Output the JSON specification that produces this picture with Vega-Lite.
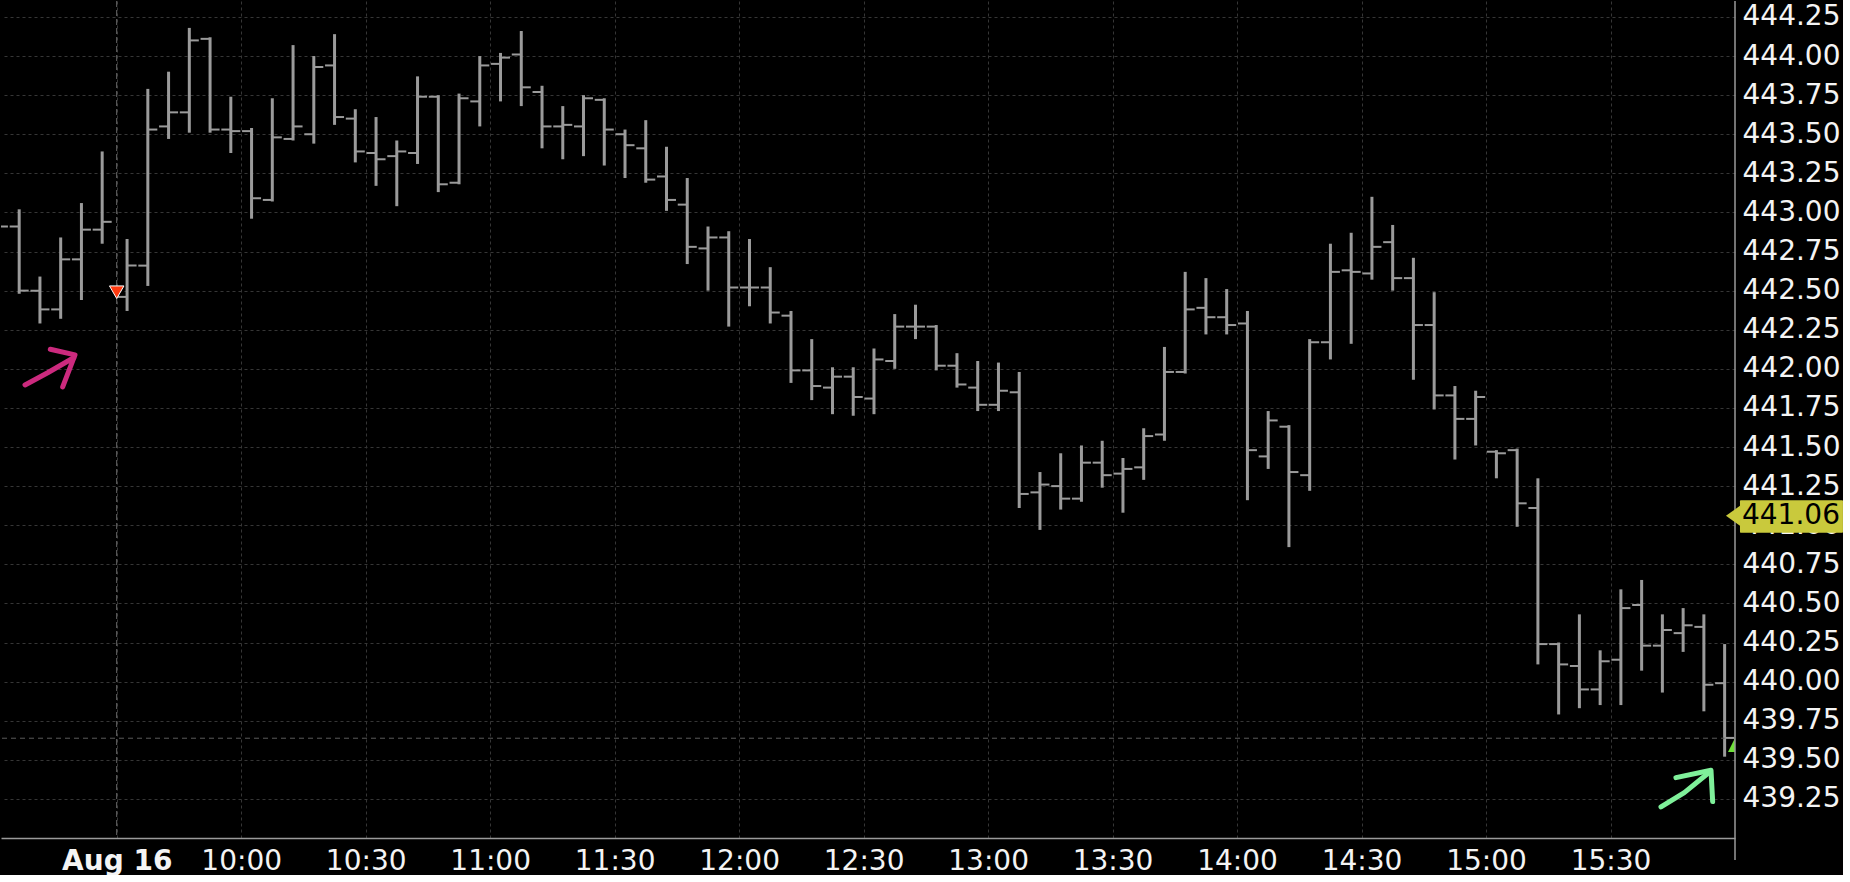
{
  "$schema": "https://vega.github.io/schema/vega-lite/v6.json",
  "width": 1734,
  "height": 837,
  "padding": 0,
  "background": "#000000",
  "config": {
    "view": {"stroke": null},
    "font": "DejaVu Sans"
  },
  "datasets": {
    "bars": [
      {"t": "2021-08-16T09:01:30", "o": 442.95, "h": 443.00, "l": 442.85, "c": 442.91},
      {"t": "2021-08-16T09:06:30", "o": 442.91, "h": 443.02, "l": 442.48, "c": 442.50},
      {"t": "2021-08-16T09:11:30", "o": 442.50, "h": 442.59, "l": 442.29, "c": 442.38},
      {"t": "2021-08-16T09:16:30", "o": 442.38, "h": 442.84, "l": 442.32, "c": 442.70},
      {"t": "2021-08-16T09:21:30", "o": 442.70, "h": 443.06, "l": 442.44, "c": 442.89},
      {"t": "2021-08-16T09:26:30", "o": 442.89, "h": 443.39, "l": 442.80, "c": 442.94},
      {"t": "2021-08-16T09:32:30", "o": 442.46, "h": 442.83, "l": 442.37, "c": 442.66},
      {"t": "2021-08-16T09:37:30", "o": 442.66, "h": 443.79, "l": 442.53, "c": 443.53},
      {"t": "2021-08-16T09:42:30", "o": 443.55, "h": 443.90, "l": 443.47, "c": 443.64},
      {"t": "2021-08-16T09:47:30", "o": 443.64, "h": 444.18, "l": 443.51, "c": 444.10},
      {"t": "2021-08-16T09:52:30", "o": 444.11, "h": 444.12, "l": 443.51, "c": 443.53},
      {"t": "2021-08-16T09:57:30", "o": 443.53, "h": 443.74, "l": 443.38, "c": 443.52},
      {"t": "2021-08-16T10:02:30", "o": 443.52, "h": 443.54, "l": 442.96, "c": 443.09},
      {"t": "2021-08-16T10:07:30", "o": 443.08, "h": 443.73, "l": 443.07, "c": 443.48},
      {"t": "2021-08-16T10:12:30", "o": 443.47, "h": 444.07, "l": 443.46, "c": 443.55},
      {"t": "2021-08-16T10:17:30", "o": 443.50, "h": 444.00, "l": 443.44, "c": 443.93},
      {"t": "2021-08-16T10:22:30", "o": 443.94, "h": 444.14, "l": 443.56, "c": 443.61},
      {"t": "2021-08-16T10:27:30", "o": 443.60, "h": 443.66, "l": 443.32, "c": 443.39},
      {"t": "2021-08-16T10:32:30", "o": 443.38, "h": 443.61, "l": 443.17, "c": 443.34},
      {"t": "2021-08-16T10:37:30", "o": 443.36, "h": 443.46, "l": 443.04, "c": 443.39},
      {"t": "2021-08-16T10:42:30", "o": 443.38, "h": 443.87, "l": 443.31, "c": 443.74},
      {"t": "2021-08-16T10:47:30", "o": 443.74, "h": 443.75, "l": 443.13, "c": 443.18},
      {"t": "2021-08-16T10:52:30", "o": 443.19, "h": 443.76, "l": 443.18, "c": 443.73},
      {"t": "2021-08-16T10:57:30", "o": 443.71, "h": 444.00, "l": 443.55, "c": 443.94},
      {"t": "2021-08-16T11:02:30", "o": 443.95, "h": 444.02, "l": 443.71, "c": 443.99},
      {"t": "2021-08-16T11:07:30", "o": 444.01, "h": 444.16, "l": 443.68, "c": 443.80},
      {"t": "2021-08-16T11:12:30", "o": 443.77, "h": 443.81, "l": 443.41, "c": 443.55},
      {"t": "2021-08-16T11:17:30", "o": 443.55, "h": 443.68, "l": 443.34, "c": 443.56},
      {"t": "2021-08-16T11:22:30", "o": 443.55, "h": 443.75, "l": 443.36, "c": 443.73},
      {"t": "2021-08-16T11:27:30", "o": 443.72, "h": 443.73, "l": 443.30, "c": 443.53},
      {"t": "2021-08-16T11:32:30", "o": 443.50, "h": 443.53, "l": 443.22, "c": 443.43},
      {"t": "2021-08-16T11:37:30", "o": 443.41, "h": 443.59, "l": 443.19, "c": 443.21},
      {"t": "2021-08-16T11:42:30", "o": 443.23, "h": 443.42, "l": 443.01, "c": 443.08},
      {"t": "2021-08-16T11:47:30", "o": 443.05, "h": 443.22, "l": 442.67, "c": 442.78},
      {"t": "2021-08-16T11:52:30", "o": 442.77, "h": 442.91, "l": 442.50, "c": 442.84},
      {"t": "2021-08-16T11:57:30", "o": 442.84, "h": 442.88, "l": 442.27, "c": 442.52},
      {"t": "2021-08-16T12:02:30", "o": 442.52, "h": 442.83, "l": 442.40, "c": 442.52},
      {"t": "2021-08-16T12:07:30", "o": 442.52, "h": 442.65, "l": 442.29, "c": 442.36},
      {"t": "2021-08-16T12:12:30", "o": 442.34, "h": 442.37, "l": 441.91, "c": 441.99},
      {"t": "2021-08-16T12:17:30", "o": 441.99, "h": 442.19, "l": 441.80, "c": 441.89},
      {"t": "2021-08-16T12:22:30", "o": 441.88, "h": 442.01, "l": 441.71, "c": 441.95},
      {"t": "2021-08-16T12:27:30", "o": 441.95, "h": 442.01, "l": 441.70, "c": 441.82},
      {"t": "2021-08-16T12:32:30", "o": 441.81, "h": 442.13, "l": 441.71, "c": 442.06},
      {"t": "2021-08-16T12:37:30", "o": 442.05, "h": 442.35, "l": 442.00, "c": 442.27},
      {"t": "2021-08-16T12:42:30", "o": 442.27, "h": 442.41, "l": 442.19, "c": 442.27},
      {"t": "2021-08-16T12:47:30", "o": 442.27, "h": 442.28, "l": 441.99, "c": 442.02},
      {"t": "2021-08-16T12:52:30", "o": 442.02, "h": 442.10, "l": 441.88, "c": 441.90},
      {"t": "2021-08-16T12:57:30", "o": 441.88, "h": 442.05, "l": 441.73, "c": 441.77},
      {"t": "2021-08-16T13:02:30", "o": 441.77, "h": 442.04, "l": 441.73, "c": 441.86},
      {"t": "2021-08-16T13:07:30", "o": 441.85, "h": 441.98, "l": 441.11, "c": 441.20},
      {"t": "2021-08-16T13:12:30", "o": 441.21, "h": 441.34, "l": 440.97, "c": 441.26},
      {"t": "2021-08-16T13:17:30", "o": 441.25, "h": 441.46, "l": 441.10, "c": 441.17},
      {"t": "2021-08-16T13:22:30", "o": 441.17, "h": 441.51, "l": 441.15, "c": 441.40},
      {"t": "2021-08-16T13:27:30", "o": 441.40, "h": 441.54, "l": 441.24, "c": 441.32},
      {"t": "2021-08-16T13:32:30", "o": 441.33, "h": 441.43, "l": 441.08, "c": 441.36},
      {"t": "2021-08-16T13:37:30", "o": 441.37, "h": 441.62, "l": 441.29, "c": 441.57},
      {"t": "2021-08-16T13:42:30", "o": 441.58, "h": 442.14, "l": 441.54, "c": 441.98},
      {"t": "2021-08-16T13:47:30", "o": 441.98, "h": 442.62, "l": 441.97, "c": 442.38},
      {"t": "2021-08-16T13:52:30", "o": 442.39, "h": 442.58, "l": 442.22, "c": 442.33},
      {"t": "2021-08-16T13:57:30", "o": 442.33, "h": 442.51, "l": 442.22, "c": 442.28},
      {"t": "2021-08-16T14:02:30", "o": 442.29, "h": 442.37, "l": 441.16, "c": 441.48},
      {"t": "2021-08-16T14:07:30", "o": 441.44, "h": 441.73, "l": 441.36, "c": 441.67},
      {"t": "2021-08-16T14:12:30", "o": 441.63, "h": 441.64, "l": 440.86, "c": 441.34},
      {"t": "2021-08-16T14:17:30", "o": 441.32, "h": 442.19, "l": 441.22, "c": 442.17},
      {"t": "2021-08-16T14:22:30", "o": 442.17, "h": 442.80, "l": 442.06, "c": 442.62},
      {"t": "2021-08-16T14:27:30", "o": 442.63, "h": 442.87, "l": 442.16, "c": 442.62},
      {"t": "2021-08-16T14:32:30", "o": 442.61, "h": 443.10, "l": 442.57, "c": 442.78},
      {"t": "2021-08-16T14:37:30", "o": 442.81, "h": 442.92, "l": 442.50, "c": 442.58},
      {"t": "2021-08-16T14:42:30", "o": 442.58, "h": 442.71, "l": 441.93, "c": 442.28},
      {"t": "2021-08-16T14:47:30", "o": 442.28, "h": 442.49, "l": 441.74, "c": 441.83},
      {"t": "2021-08-16T14:52:30", "o": 441.83, "h": 441.89, "l": 441.42, "c": 441.68},
      {"t": "2021-08-16T14:57:30", "o": 441.68, "h": 441.86, "l": 441.51, "c": 441.82},
      {"t": "2021-08-16T15:02:30", "o": 441.47, "h": 441.48, "l": 441.30, "c": 441.46},
      {"t": "2021-08-16T15:07:30", "o": 441.48, "h": 441.49, "l": 440.99, "c": 441.14},
      {"t": "2021-08-16T15:12:30", "o": 441.11, "h": 441.30, "l": 440.11, "c": 440.24},
      {"t": "2021-08-16T15:17:30", "o": 440.24, "h": 440.25, "l": 439.79, "c": 440.11},
      {"t": "2021-08-16T15:22:30", "o": 440.10, "h": 440.43, "l": 439.83, "c": 439.95},
      {"t": "2021-08-16T15:27:30", "o": 439.95, "h": 440.20, "l": 439.85, "c": 440.13},
      {"t": "2021-08-16T15:32:30", "o": 440.14, "h": 440.59, "l": 439.85, "c": 440.47},
      {"t": "2021-08-16T15:37:30", "o": 440.49, "h": 440.65, "l": 440.07, "c": 440.23},
      {"t": "2021-08-16T15:42:30", "o": 440.23, "h": 440.43, "l": 439.93, "c": 440.33},
      {"t": "2021-08-16T15:47:30", "o": 440.31, "h": 440.47, "l": 440.19, "c": 440.36},
      {"t": "2021-08-16T15:52:30", "o": 440.35, "h": 440.43, "l": 439.81, "c": 439.98},
      {"t": "2021-08-16T15:57:30", "o": 439.99, "h": 440.24, "l": 439.52, "c": 439.64}
    ],
    "arrows": [
      {"arrow": "m", "seg": "m1", "k": 1, "t": "2021-08-16T09:07:54", "p": 441.897},
      {"arrow": "m", "seg": "m1", "k": 2, "t": "2021-08-16T09:13:22", "p": 441.975},
      {"arrow": "m", "seg": "m1", "k": 3, "t": "2021-08-16T09:19:38", "p": 442.071},
      {"arrow": "m", "seg": "m2", "k": 1, "t": "2021-08-16T09:14:00", "p": 442.125},
      {"arrow": "m", "seg": "m2", "k": 2, "t": "2021-08-16T09:19:57", "p": 442.089},
      {"arrow": "m", "seg": "m2", "k": 3, "t": "2021-08-16T09:16:59", "p": 441.884},
      {"arrow": "g", "seg": "g1", "k": 1, "t": "2021-08-16T15:42:10", "p": 439.199},
      {"arrow": "g", "seg": "g1", "k": 2, "t": "2021-08-16T15:47:47", "p": 439.290},
      {"arrow": "g", "seg": "g1", "k": 3, "t": "2021-08-16T15:54:02", "p": 439.425},
      {"arrow": "g", "seg": "g2", "k": 1, "t": "2021-08-16T15:45:46", "p": 439.386},
      {"arrow": "g", "seg": "g2", "k": 2, "t": "2021-08-16T15:54:13", "p": 439.433},
      {"arrow": "g", "seg": "g2", "k": 3, "t": "2021-08-16T15:54:37", "p": 439.233}
    ]
  },
  "layer": [
    {
      "data": {"name": "bars"},
      "mark": {"type": "rule", "color": "#9b9b9b", "strokeWidth": 3, "clip": true},
      "encoding": {
        "x": {
          "field": "t", "type": "temporal", "title": null,
          "scale": {
            "domain": [
              {"year": 2021, "month": 8, "date": 16, "hours": 9, "minutes": 2, "seconds": 7},
              {"year": 2021, "month": 8, "date": 16, "hours": 16, "minutes": 0}
            ],
            "nice": false
          },
          "axis": {
            "values": [
              {"year": 2021, "month": 8, "date": 16, "hours": 9, "minutes": 30},
              {"year": 2021, "month": 8, "date": 16, "hours": 10, "minutes": 0},
              {"year": 2021, "month": 8, "date": 16, "hours": 10, "minutes": 30},
              {"year": 2021, "month": 8, "date": 16, "hours": 11, "minutes": 0},
              {"year": 2021, "month": 8, "date": 16, "hours": 11, "minutes": 30},
              {"year": 2021, "month": 8, "date": 16, "hours": 12, "minutes": 0},
              {"year": 2021, "month": 8, "date": 16, "hours": 12, "minutes": 30},
              {"year": 2021, "month": 8, "date": 16, "hours": 13, "minutes": 0},
              {"year": 2021, "month": 8, "date": 16, "hours": 13, "minutes": 30},
              {"year": 2021, "month": 8, "date": 16, "hours": 14, "minutes": 0},
              {"year": 2021, "month": 8, "date": 16, "hours": 14, "minutes": 30},
              {"year": 2021, "month": 8, "date": 16, "hours": 15, "minutes": 0},
              {"year": 2021, "month": 8, "date": 16, "hours": 15, "minutes": 30}
            ],
            "labelExpr": "hours(datum.value) == 9 ? 'Aug 16' : timeFormat(datum.value, '%H:%M')",
            "labelFontWeight": {"condition": {"test": "hours(datum.value) == 9", "value": "bold"}, "value": "normal"},
            "labelFont": "DejaVu Sans",
            "labelFontSize": 28,
            "labelColor": "#f4f4f4",
            "labelPadding": 9,
            "labelFlush": false,
            "labelOverlap": false,
            "ticks": false,
            "domain": true,
            "domainColor": "#9a9a9a",
            "domainWidth": 1.5,
            "grid": true,
            "gridColor": "#363636",
            "gridDash": [3, 3],
            "gridWidth": 1
          }
        },
        "y": {
          "field": "l", "type": "quantitative", "title": null,
          "scale": {"domain": [439.0, 444.352], "nice": false, "zero": false},
          "axis": {
            "orient": "right",
            "values": [439.25, 439.5, 439.75, 440, 440.25, 440.5, 440.75, 441, 441.25, 441.5, 441.75, 442, 442.25, 442.5, 442.75, 443, 443.25, 443.5, 443.75, 444, 444.25],
            "format": ".2f",
            "labelFont": "DejaVu Sans",
            "labelFontSize": 28,
            "labelColor": "#f4f4f4",
            "labelPadding": 7,
            "labelFlush": false,
            "labelOverlap": false,
            "ticks": false,
            "domain": false,
            "grid": true,
            "gridColor": "#363636",
            "gridDash": [3, 3],
            "gridWidth": 1
          }
        },
        "y2": {"field": "h"}
      }
    },
    {
      "data": {"values": [{"t": "2021-08-16T09:30:00"}]},
      "mark": {"type": "rule", "color": "#6a6a6a", "strokeWidth": 1, "strokeDash": [6, 3]},
      "encoding": {
        "x": {"field": "t", "type": "temporal", "title": null}
      }
    },
    {
      "data": {"values": [{"p": 439.638}]},
      "mark": {"type": "rule", "color": "#5a5a5a", "strokeWidth": 1, "strokeDash": [5, 4]},
      "encoding": {
        "y": {"field": "p", "type": "quantitative", "title": null}
      }
    },
    {
      "data": {"name": "bars"},
      "mark": {"type": "tick", "orient": "horizontal", "color": "#9b9b9b", "size": 9.5, "thickness": 2, "xOffset": -4.75, "opacity": 1, "clip": true},
      "encoding": {
        "x": {"field": "t", "type": "temporal", "title": null},
        "y": {"field": "o", "type": "quantitative", "title": null}
      }
    },
    {
      "data": {"name": "bars"},
      "mark": {"type": "tick", "orient": "horizontal", "color": "#9b9b9b", "size": 9.5, "thickness": 2, "xOffset": 4.75, "opacity": 1, "clip": true},
      "encoding": {
        "x": {"field": "t", "type": "temporal", "title": null},
        "y": {"field": "c", "type": "quantitative", "title": null}
      }
    },
    {
      "data": {"values": [{"t": "2021-08-16T09:30:00", "p": 442.49}]},
      "mark": {"type": "point", "shape": "triangle-down", "size": 210, "filled": true, "fill": "#ff3a10", "stroke": "#ffffff", "strokeWidth": 1, "opacity": 1},
      "encoding": {
        "x": {"field": "t", "type": "temporal", "title": null},
        "y": {"field": "p", "type": "quantitative", "title": null}
      }
    },
    {
      "data": {"values": [{"t": "2021-08-16T16:00:00", "p": 439.595}]},
      "mark": {"type": "point", "shape": "M -1 1 L 0 -1 L 0 1 Z", "size": 196, "filled": true, "fill": "#6fe03a", "strokeWidth": 0, "opacity": 1},
      "encoding": {
        "x": {"field": "t", "type": "temporal", "title": null},
        "y": {"field": "p", "type": "quantitative", "title": null}
      }
    },
    {
      "data": {"name": "arrows"},
      "mark": {"type": "line", "strokeWidth": 5, "strokeCap": "round", "strokeJoin": "round", "interpolate": "linear"},
      "encoding": {
        "x": {"field": "t", "type": "temporal", "title": null},
        "y": {"field": "p", "type": "quantitative", "title": null},
        "detail": {"field": "seg"},
        "order": {"field": "k"},
        "color": {"field": "arrow", "type": "nominal", "scale": {"domain": ["m", "g"], "range": ["#cc2a7e", "#7ff09a"]}, "legend": null}
      }
    },
    {
      "data": {"values": [{"t": "2021-08-16T16:00:00", "p1": 438.86, "p2": 444.352}]},
      "mark": {"type": "rule", "color": "#9a9a9a", "strokeWidth": 1.5},
      "encoding": {
        "x": {"field": "t", "type": "temporal", "title": null},
        "y": {"field": "p1", "type": "quantitative", "title": null},
        "y2": {"field": "p2"}
      }
    },
    {
      "data": {"values": [{"t1": "2021-08-16T16:01:12", "t2": "2021-08-16T16:26:01", "p1": 441.16, "p2": 440.952}]},
      "mark": {"type": "rect", "fill": "#c9c93c", "cornerRadius": 1},
      "encoding": {
        "x": {"field": "t1", "type": "temporal", "title": null},
        "x2": {"field": "t2"},
        "y": {"field": "p1", "type": "quantitative", "title": null},
        "y2": {"field": "p2"}
      }
    },
    {
      "data": {"values": [{"t": "2021-08-16T16:01:12", "p": 441.06}]},
      "mark": {"type": "point", "shape": "M -1 0 L 0.05 -0.75 L 0.05 0.75 Z", "size": 784, "filled": true, "fill": "#c9c93c", "strokeWidth": 0, "opacity": 1},
      "encoding": {
        "x": {"field": "t", "type": "temporal", "title": null},
        "y": {"field": "p", "type": "quantitative", "title": null}
      }
    },
    {
      "data": {"values": [{"t": "2021-08-16T16:01:41", "p": 441.06, "label": "441.06"}]},
      "mark": {"type": "text", "align": "left", "baseline": "middle", "font": "DejaVu Sans", "fontSize": 28, "color": "#000000"},
      "encoding": {
        "x": {"field": "t", "type": "temporal", "title": null},
        "y": {"field": "p", "type": "quantitative", "title": null},
        "text": {"field": "label"}
      }
    }
  ]
}
